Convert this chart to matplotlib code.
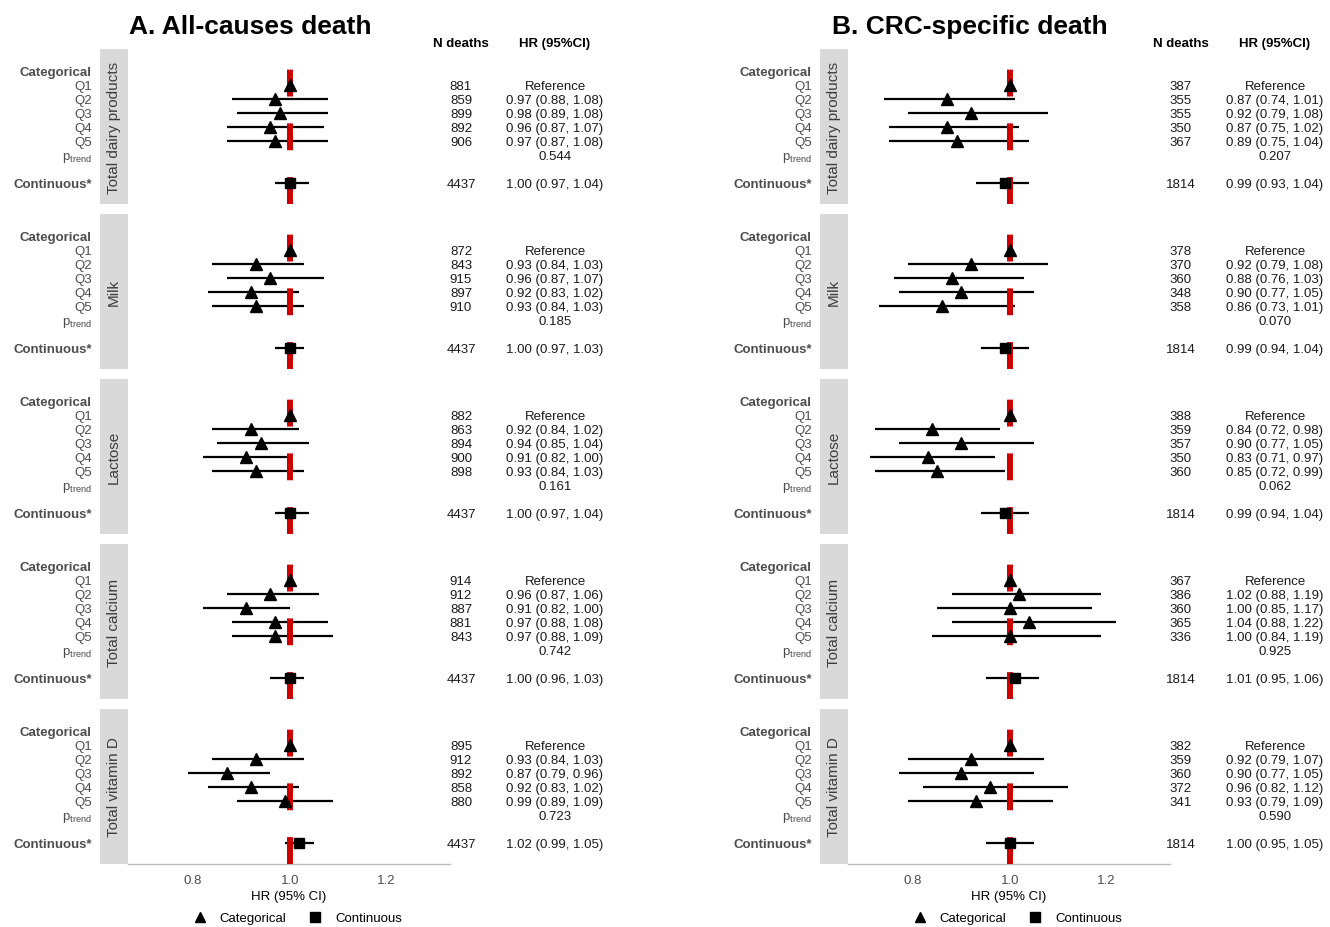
import numpy as np
import matplotlib
matplotlib.use('Agg')
import matplotlib.pyplot as plt
from matplotlib.lines import Line2D
from matplotlib.transforms import blended_transform_factory

plt.rcParams['font.family'] = ['Liberation Sans', 'DejaVu Sans']

# Exposures shown as facets (top to bottom)
EXPOSURES = ['Total dairy products', 'Milk', 'Lactose', 'Total calcium', 'Total vitamin D']
QUINTILES = ['Q1', 'Q2', 'Q3', 'Q4', 'Q5']

# A. All-causes death -- quintile results (Q1 is the reference)
all_n = [[881, 859, 899, 892, 906],
         [872, 843, 915, 897, 910],
         [882, 863, 894, 900, 898],
         [914, 912, 887, 881, 843],
         [895, 912, 892, 858, 880]]
all_hr = [[1.00, 0.97, 0.98, 0.96, 0.97],
          [1.00, 0.93, 0.96, 0.92, 0.93],
          [1.00, 0.92, 0.94, 0.91, 0.93],
          [1.00, 0.96, 0.91, 0.97, 0.97],
          [1.00, 0.93, 0.87, 0.92, 0.99]]
all_lo = [[None, 0.88, 0.89, 0.87, 0.87],
          [None, 0.84, 0.87, 0.83, 0.84],
          [None, 0.84, 0.85, 0.82, 0.84],
          [None, 0.87, 0.82, 0.88, 0.88],
          [None, 0.84, 0.79, 0.83, 0.89]]
all_hi = [[None, 1.08, 1.08, 1.07, 1.08],
          [None, 1.03, 1.07, 1.02, 1.03],
          [None, 1.02, 1.04, 1.00, 1.03],
          [None, 1.06, 1.00, 1.08, 1.09],
          [None, 1.03, 0.96, 1.02, 1.09]]
all_ptrend = [0.544, 0.185, 0.161, 0.742, 0.723]
# continuous exposure
all_cont_n = [4437, 4437, 4437, 4437, 4437]
all_cont_hr = [1.00, 1.00, 1.00, 1.00, 1.02]
all_cont_lo = [0.97, 0.97, 0.97, 0.96, 0.99]
all_cont_hi = [1.04, 1.03, 1.04, 1.03, 1.05]

# B. CRC-specific death
crc_n = [[387, 355, 355, 350, 367],
         [378, 370, 360, 348, 358],
         [388, 359, 357, 350, 360],
         [367, 386, 360, 365, 336],
         [382, 359, 360, 372, 341]]
crc_hr = [[1.00, 0.87, 0.92, 0.87, 0.89],
          [1.00, 0.92, 0.88, 0.90, 0.86],
          [1.00, 0.84, 0.90, 0.83, 0.85],
          [1.00, 1.02, 1.00, 1.04, 1.00],
          [1.00, 0.92, 0.90, 0.96, 0.93]]
crc_lo = [[None, 0.74, 0.79, 0.75, 0.75],
          [None, 0.79, 0.76, 0.77, 0.73],
          [None, 0.72, 0.77, 0.71, 0.72],
          [None, 0.88, 0.85, 0.88, 0.84],
          [None, 0.79, 0.77, 0.82, 0.79]]
crc_hi = [[None, 1.01, 1.08, 1.02, 1.04],
          [None, 1.08, 1.03, 1.05, 1.01],
          [None, 0.98, 1.05, 0.97, 0.99],
          [None, 1.19, 1.17, 1.22, 1.19],
          [None, 1.07, 1.05, 1.12, 1.09]]
crc_ptrend = [0.207, 0.070, 0.062, 0.925, 0.590]
crc_cont_n = [1814, 1814, 1814, 1814, 1814]
crc_cont_hr = [0.99, 0.99, 0.99, 1.01, 1.00]
crc_cont_lo = [0.93, 0.94, 0.94, 0.95, 0.95]
crc_cont_hi = [1.04, 1.04, 1.04, 1.06, 1.05]

W, H = 1330, 928
GREY_TXT = '#4D4D4D'
RED = '#CC0000'
FS = 9.5
VA = 'center_baseline'

fig = plt.figure(figsize=(W / 100, H / 100), dpi=100)


def fx(x):
    return x / W


def fy(y):
    return 1 - y / H


# row positions inside a facet
ROW_CAT, ROW_PT, ROW_CONT = 0, 6, 8
ROW_Q = [1, 2, 3, 4, 5]


def draw_half(title, off, n, hr, lo, hi, ptrend, cn, chr_, clo, chi):
    panel_l, panel_w = 128 + off, 322
    strip_l, strip_w = 100 + off, 28
    lab_x = 92 + off
    n_x, hr_x = 461 + off, 555 + off
    fig.text(fx(250 + off), fy(27), title, ha='center', va='center',
             fontsize=19, fontweight='bold')
    fig.text(fx(n_x), fy(44), 'N deaths', ha='center', va='center',
             fontsize=FS, fontweight='bold')
    fig.text(fx(hr_x), fy(44), 'HR (95%CI)', ha='center', va='center',
             fontsize=FS, fontweight='bold')

    for i, expo in enumerate(EXPOSURES):
        top = 50 + 165 * i
        ax = fig.add_axes([fx(panel_l), fy(top + 155), panel_w / W, 155 / H])
        sax = fig.add_axes([fx(strip_l), fy(top + 155), strip_w / W, 155 / H])
        sax.set_facecolor('#D9D9D9')
        sax.set_xticks([])
        sax.set_yticks([])
        for s in sax.spines.values():
            s.set_visible(False)
        sax.text(0.5, 0.5, expo, rotation=90, ha='center', va='center',
                 fontsize=11, color='#3C3C3C', transform=sax.transAxes)

        ax.set_xlim(0.665, 1.332)
        ax.set_ylim(9.5, -1.57)
        ax.set_yticks([])
        for s in ax.spines.values():
            s.set_visible(False)

        lo_i = np.array([np.nan if v is None else v for v in lo[i]])
        hi_i = np.array([np.nan if v is None else v for v in hi[i]])
        ok = ~np.isnan(lo_i)
        ax.hlines(np.array(ROW_Q)[ok], lo_i[ok], hi_i[ok], color='black', lw=1.6, zorder=2)
        ax.hlines(ROW_CONT, clo[i], chi[i], color='black', lw=1.6, zorder=2)
        ax.axvline(1.0, color=RED, lw=4.3, linestyle=(0, (4.5, 4.5)), zorder=3)
        ax.plot(hr[i], ROW_Q, linestyle='none', marker='^', color='black', ms=8, zorder=4)
        ax.plot([chr_[i]], [ROW_CONT], linestyle='none', marker='s', color='black', ms=7, zorder=4)

        if i == len(EXPOSURES) - 1:
            ax.spines['bottom'].set_visible(True)
            ax.spines['bottom'].set_color('#BDBDBD')
            ax.spines['bottom'].set_linewidth(1.0)
            ax.set_xticks([0.8, 1.0, 1.2])
            ax.set_xticklabels(['0.8', '1.0', '1.2'])
            ax.tick_params(axis='x', length=0, pad=7, labelsize=FS, labelcolor=GREY_TXT)
            ax.set_xlabel('HR (95% CI)', fontsize=FS, labelpad=3)
        else:
            ax.set_xticks([])

        tr = blended_transform_factory(fig.transFigure, ax.transData)
        # row labels
        ax.text(fx(lab_x), ROW_CAT, 'Categorical', transform=tr, ha='right', va=VA,
                fontsize=FS, fontweight='bold', color=GREY_TXT)
        for q, r in zip(QUINTILES, ROW_Q):
            ax.text(fx(lab_x), r, q, transform=tr, ha='right', va=VA,
                    fontsize=FS, color=GREY_TXT)
        ax.text(fx(lab_x), ROW_PT, r'$\mathregular{p_{trend}}$', transform=tr,
                ha='right', va=VA, fontsize=FS, color=GREY_TXT)
        ax.text(fx(lab_x), ROW_CONT, 'Continuous*', transform=tr, ha='right', va=VA,
                fontsize=FS, fontweight='bold', color=GREY_TXT)

        # N deaths and HR columns
        for k, r in enumerate(ROW_Q):
            ax.text(fx(n_x), r, str(n[i][k]), transform=tr, ha='center', va=VA,
                    fontsize=FS, color='#1A1A1A')
            if lo[i][k] is None:
                txt = 'Reference'
            else:
                txt = f'{hr[i][k]:.2f} ({lo[i][k]:.2f}, {hi[i][k]:.2f})'
            ax.text(fx(hr_x), r, txt, transform=tr, ha='center', va=VA,
                    fontsize=FS, color='#1A1A1A')
        ax.text(fx(hr_x), ROW_PT, f'{ptrend[i]:.3f}', transform=tr, ha='center',
                va=VA, fontsize=FS, color='#1A1A1A')
        ax.text(fx(n_x), ROW_CONT, str(cn[i]), transform=tr, ha='center', va=VA,
                fontsize=FS, color='#1A1A1A')
        ax.text(fx(hr_x), ROW_CONT, f'{chr_[i]:.2f} ({clo[i]:.2f}, {chi[i]:.2f})',
                transform=tr, ha='center', va=VA, fontsize=FS, color='#1A1A1A')

    handles = [Line2D([], [], linestyle='none', marker='^', color='black', ms=7.5),
               Line2D([], [], linestyle='none', marker='s', color='black', ms=6.5)]
    fig.legend(handles, ['Categorical', 'Continuous'], ncol=2, frameon=False,
               loc='center', bbox_to_anchor=(fx(297 + off), fy(919)),
               fontsize=FS, handlelength=1.2, handletextpad=0.9, columnspacing=1.6)


draw_half('A. All-causes death', 0, all_n, all_hr, all_lo, all_hi, all_ptrend,
          all_cont_n, all_cont_hr, all_cont_lo, all_cont_hi)
draw_half('B. CRC-specific death', 720, crc_n, crc_hr, crc_lo, crc_hi, crc_ptrend,
          crc_cont_n, crc_cont_hr, crc_cont_lo, crc_cont_hi)

fig.savefig('out.png', dpi=100)
